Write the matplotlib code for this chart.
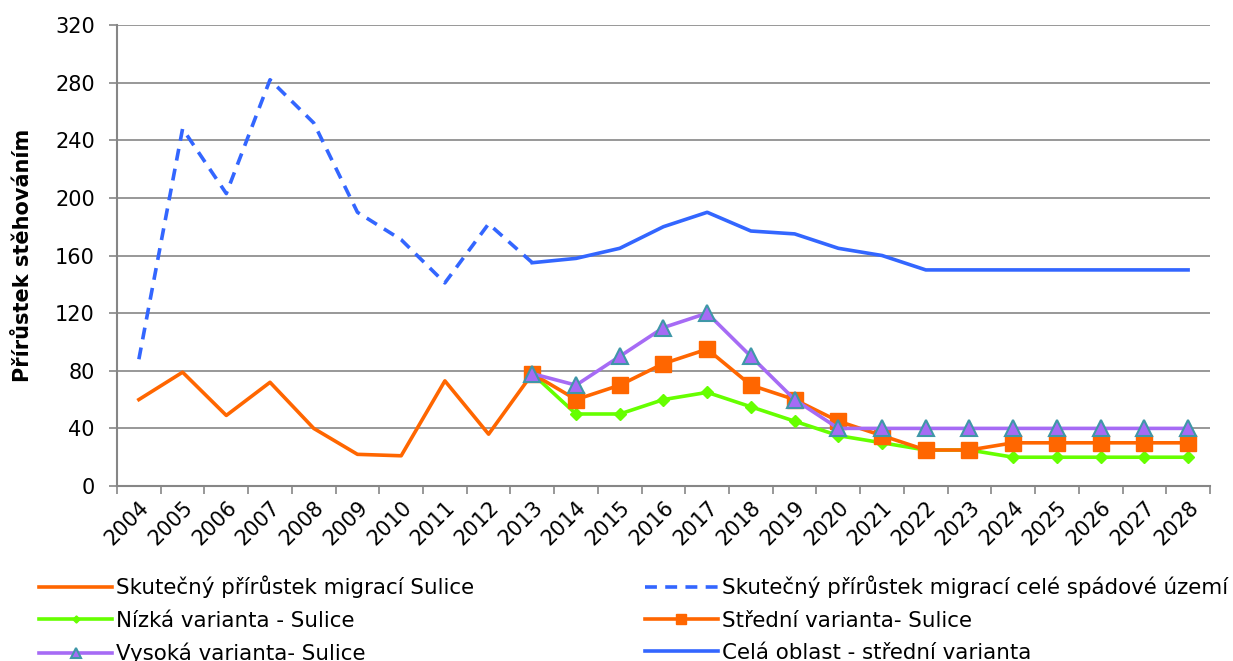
import numpy as np
import matplotlib.pyplot as plt

roky = [str(r) for r in range(2004, 2029)]

# skutecnost 2004-2013
skut_sulice = [60, 79, 49, 72, 40, 22, 21, 73, 36, 78]
skut_celek = [88, 248, 203, 282, 252, 190, 171, 141, 182, 155]

# prognozy 2013-2028
nizka = [78, 50, 50, 60, 65, 55, 45, 35, 30, 25, 25, 20, 20, 20, 20, 20]
stredni = [78, 60, 70, 85, 95, 70, 60, 45, 35, 25, 25, 30, 30, 30, 30, 30]
vysoka = [78, 70, 90, 110, 120, 90, 60, 40, 40, 40, 40, 40, 40, 40, 40, 40]
cela_oblast = [155, 158, 165, 180, 190, 177, 175, 165, 160, 150, 150, 150, 150, 150, 150, 150]

x_skut = np.arange(len(skut_sulice))
x_prog = np.arange(9, 9 + len(nizka))

plt.rcParams['font.family'] = ['DejaVu Sans']
fig = plt.figure(figsize=(12.33, 6.61), dpi=100)
ax = fig.add_axes([0.0949, 0.2647, 0.8864, 0.6975])

grey = '#868686'
lw = 2.6
fs = 15

l1, = ax.plot(x_skut, skut_sulice, color='#FF6600', lw=lw,
              label='Skutečný přírůstek migrací Sulice')
l2, = ax.plot(x_skut, skut_celek, color='#3366FF', lw=lw, ls=(0, (3.3, 2.3)),
              label='Skutečný přírůstek migrací celé spádové území')
l6, = ax.plot(x_prog, cela_oblast, color='#3366FF', lw=lw,
              label='Celá oblast - střední varianta')
l3, = ax.plot(x_prog, nizka, color='#66FF00', lw=lw, marker='D', ms=6,
              label='Nízká varianta - Sulice')
l4, = ax.plot(x_prog, stredni, color='#FF6600', lw=lw, marker='s', ms=11,
              label='Střední varianta- Sulice')
l5, = ax.plot(x_prog, vysoka, color='#A66BF5', lw=lw, marker='^', ms=11,
              mfc='#A66BF5', mec='#3F97A8', mew=1.5,
              label='Vysoká varianta- Sulice')

ax.set_ylim(0, 320)
ax.set_yticks(np.arange(0, 321, 40))
ax.set_xlim(-0.5, len(roky) - 0.5)
ax.set_xticks(np.arange(-0.5, len(roky), 1.0))
ax.set_xticklabels([])
ax.set_xticks(np.arange(len(roky)), minor=True)
ax.set_xticklabels(roky, minor=True, rotation=45, ha='right',
                   rotation_mode='anchor', fontsize=fs)
ax.tick_params(axis='x', which='minor', length=0, pad=8)
ax.tick_params(axis='x', which='major', length=6, color=grey, width=1.2)
ax.tick_params(axis='y', length=6, color=grey, width=1.2, labelsize=fs, pad=10)

ax.grid(axis='y', color=grey, lw=1.2)
ax.set_axisbelow(True)
for s in ['top', 'right']:
    ax.spines[s].set_visible(False)
for s in ['left', 'bottom']:
    ax.spines[s].set_color(grey)
    ax.spines[s].set_linewidth(1.5)

ax.set_ylabel('Přírůstek stěhováním', fontsize=fs, fontweight='bold', labelpad=16)

leg_kw = dict(loc='upper left', frameon=False, fontsize=15.4, handlelength=3.4,
              labelspacing=0.57, markerscale=0.6, borderpad=0, borderaxespad=0,
              handletextpad=0.2)
fig.legend([l1, l3, l5], [l.get_label() for l in [l1, l3, l5]],
           bbox_to_anchor=(0.032, 0.129), **leg_kw)
fig.legend([l2, l4, l6], [l.get_label() for l in [l2, l4, l6]],
           bbox_to_anchor=(0.523, 0.129), **leg_kw)

fig.savefig('out.png', dpi=100)
